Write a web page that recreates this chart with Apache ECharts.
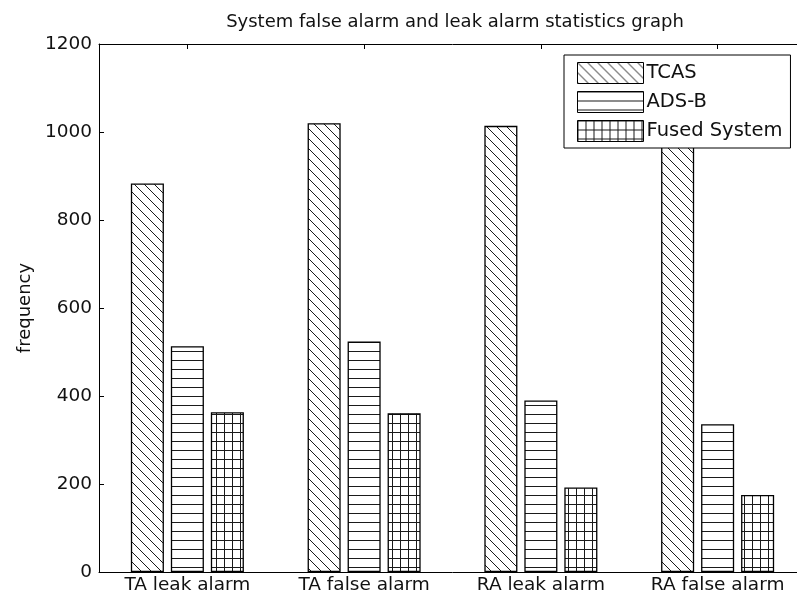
<!DOCTYPE html>
<html>
<head>
<meta charset="utf-8">
<script src="https://cdn.jsdelivr.net/npm/echarts@6/dist/echarts.min.js"></script>
<style>
html,body{margin:0;padding:0;background:#fff;overflow:hidden;width:797px;height:599px;}
#main{width:810px;height:599px;}
</style>
</head>
<body>
<div id="main"></div>
<script>
const categories = ['TA leak alarm', 'TA false alarm', 'RA leak alarm', 'RA false alarm'];
const tcasValues = [883, 1020, 1014, 1010];
const adsbValues = [513, 524, 390, 336];
const fusedValues = [363, 361, 192, 175];
const seriesNames = ['TCAS', 'ADS-B', 'Fused System'];
const yTicks = [0, 200, 400, 600, 800, 1000, 1200];

function makePattern(kind) {
  const c = document.createElement('canvas');
  let w, h;
  if (kind === 'diag') { w = 10; h = 10; }
  else if (kind === 'horiz') { w = 10; h = 9; }
  else { w = 8; h = 9; }
  c.width = w; c.height = h;
  const ctx = c.getContext('2d');
  ctx.fillStyle = '#fff';
  ctx.fillRect(0, 0, w, h);
  ctx.strokeStyle = '#1a1a1a';
  ctx.fillStyle = '#1a1a1a';
  if (kind === 'diag') {
    ctx.lineWidth = 1;
    ctx.beginPath();
    ctx.moveTo(-1, -1); ctx.lineTo(w + 1, h + 1);
    ctx.moveTo(w - 2, -2); ctx.lineTo(w + 2, 2);
    ctx.moveTo(-2, h - 2); ctx.lineTo(2, h + 2);
    ctx.stroke();
  } else if (kind === 'horiz') {
    ctx.fillRect(0, 0, w, 1);
  } else {
    ctx.fillRect(0, 0, w, 1);
    ctx.fillRect(0, 0, 1, h);
  }
  return { image: c, repeat: 'repeat' };
}

const patterns = [makePattern('diag'), makePattern('horiz'), makePattern('grid')];
const dataSets = [tcasValues, adsbValues, fusedValues];
const font = '"DejaVu Sans", Verdana, sans-serif';

const chart = echarts.init(document.getElementById('main'));
chart.setOption({
  animation: false,
  backgroundColor: '#fff',
  title: {
    text: 'System false alarm and leak alarm statistics graph',
    left: 450, textAlign: 'center', top: 8,
    textStyle: { fontFamily: font, fontSize: 18, fontWeight: 'normal', color: '#111' }
  },
  legend: {
    data: seriesNames,
    icon: 'rect',
    orient: 'vertical',
    left: 564, top: 55,
    itemWidth: 66, itemHeight: 21, itemGap: 7,
    padding: [7, 8, 6, 13],
    backgroundColor: '#fff',
    borderColor: '#000', borderWidth: 1,
    textStyle: { fontFamily: font, fontSize: 19.5, lineHeight: 21, color: '#111', padding: [0, 0, 0, -2] },
    itemStyle: { borderColor: '#000', borderWidth: 1 }
  },
  grid: { left: 99, right: 4, top: 44, bottom: 27, containLabel: false },
  xAxis: [{
    type: 'category', data: categories, position: 'bottom',
    axisLine: { onZero: false, lineStyle: { color: '#000', width: 1 } },
    axisTick: { show: false },
    axisLabel: { fontFamily: font, fontSize: 18.5, color: '#111', margin: 4 }
  }, {
    type: 'category', data: categories, position: 'top',
    axisLine: { show: true, onZero: false, lineStyle: { color: '#000', width: 1 } },
    axisTick: { show: true, inside: true, alignWithLabel: true, length: 5, lineStyle: { color: '#000' } },
    axisLabel: { show: false }
  }],
  yAxis: [{
    type: 'value', min: 0, max: 1200, interval: 200,
    name: 'frequency', nameLocation: 'middle', nameRotate: 90, nameGap: 53,
    nameTextStyle: { fontFamily: font, fontSize: 18, color: '#111' },
    axisLine: { show: true, onZero: false, lineStyle: { color: '#000', width: 1 } },
    axisTick: { show: true, inside: true, length: 5, lineStyle: { color: '#000' } },
    axisLabel: { fontFamily: font, fontSize: 18.5, color: '#111', margin: 7,
      formatter: v => (yTicks.indexOf(v) >= 0 ? String(v) : '') },
    splitLine: { show: false }
  }, {
    type: 'value', min: 0, max: 1200, interval: 200, position: 'right',
    axisLine: { show: true, onZero: false, lineStyle: { color: '#000' } },
    axisTick: { show: true, inside: true, length: 5 },
    axisLabel: { show: false }, splitLine: { show: false }
  }],
  series: seriesNames.map((name, i) => ({
    name: name, type: 'bar', data: dataSets[i],
    barWidth: '18.7%', barGap: '21%',
    itemStyle: { color: patterns[i], borderColor: '#000', borderWidth: 1.3 }
  }))
});
</script>
</body>
</html>
